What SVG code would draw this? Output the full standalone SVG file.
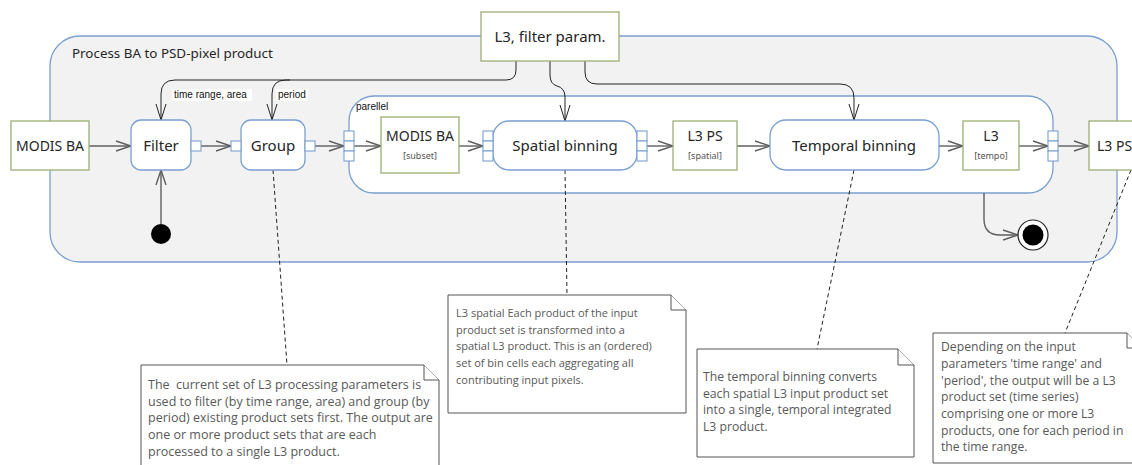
<svg xmlns="http://www.w3.org/2000/svg" width="1132" height="465" viewBox="0 0 1132 465">
<defs>
<style>
.node{font-family:"Noto Sans","Open Sans",sans-serif;fill:#262626;text-anchor:middle}
.big{font-size:15px}
.mid{font-size:14px}
.sub{font-size:9px;fill:#555}
.lbl{font-family:"Liberation Sans",Arial,sans-serif;font-size:10px;fill:#111}
.note{font-family:"Open Sans","Noto Sans",sans-serif;font-size:11px;fill:#595959}
.n1{font-size:12.5px}
.n3{font-size:12.2px}
.act{fill:#fff;stroke:#7aa0cf;stroke-width:1.3}
.obj{fill:#fff;stroke:#9aae72;stroke-width:1.3}
.pin{fill:#fff;stroke:#7aa0cf;stroke-width:1.1}
.flow{fill:none;stroke:#5f5f5f;stroke-width:1.4}
.par{fill:none;stroke:#222;stroke-width:1}
.dash{fill:none;stroke:#222;stroke-width:1;stroke-dasharray:4 3}
.nbox{fill:#fff;stroke:#555;stroke-width:1}
</style>
<marker id="ah" markerUnits="userSpaceOnUse" markerWidth="16" markerHeight="12" refX="15" refY="6" orient="auto" overflow="visible">
<path d="M0,1 L15,6 L0,11" fill="none" stroke="#5f5f5f" stroke-width="1.4"/>
</marker>
<marker id="ahp" markerUnits="userSpaceOnUse" markerWidth="18" markerHeight="12" refX="16" refY="6" orient="auto" overflow="visible">
<path d="M0,1 L16,6 L0,11" fill="none" stroke="#222" stroke-width="1"/>
</marker>
</defs>

<g id="container">
<rect x="50" y="36" width="1067" height="226" rx="30" fill="#f2f2f2" stroke="#7aa0cf" stroke-width="1.3"/>
<text x="72" y="58" class="node" style="text-anchor:start;font-size:13.4px">Process BA to PSD-pixel product</text>
</g>

<g id="parallel-region">
<rect x="349" y="96" width="704" height="97" rx="25" fill="#fff" stroke="#7aa0cf" stroke-width="1.3"/>
<text x="356" y="110" class="lbl">parellel</text>
</g>

<g id="connectors">
<path class="flow" d="M89,146 H131" marker-end="url(#ah)"/>
<path class="flow" d="M201,146 H231" marker-end="url(#ah)"/>
<path class="flow" d="M315,146 H344" marker-end="url(#ah)"/>
<path class="flow" d="M354,146 H381" marker-end="url(#ah)"/>
<path class="flow" d="M459,146 H483" marker-end="url(#ah)"/>
<path class="flow" d="M647,146 H673" marker-end="url(#ah)"/>
<path class="flow" d="M737,146 H770" marker-end="url(#ah)"/>
<path class="flow" d="M939,146 H963" marker-end="url(#ah)"/>
<path class="flow" d="M1019,146 H1048" marker-end="url(#ah)"/>
<path class="flow" d="M1058,146 H1089" marker-end="url(#ah)"/>
<path class="flow" d="M161,224 V170" marker-end="url(#ah)"/>
<path class="flow" d="M984,193 V219 Q984,235 1000,235 H1018" marker-end="url(#ah)"/>

<path class="par" d="M516,61 V70 Q516,80 506,80 H175 Q161,80 161,94 V120" marker-end="url(#ahp)"/>
<path class="par" d="M290,80 H286 Q272,80 272,94 V120" marker-end="url(#ahp)"/>
<path class="par" d="M550,61 V75 Q550,84 557,86 Q565,88 565,97 V121" marker-end="url(#ahp)"/>
<path class="par" d="M585,61 V72 Q585,84 597,84 H840 Q854,84 854,98 V120" marker-end="url(#ahp)"/>
<rect x="172" y="89" width="80" height="12" fill="#fff"/>
<text x="174" y="98" class="lbl">time range, area</text>
<rect x="276" y="89" width="32" height="12" fill="#fff"/>
<text x="278" y="98" class="lbl">period</text>

<path class="dash" d="M273,170 L287,365"/>
<path class="dash" d="M565,170 L567,295"/>
<path class="dash" d="M854,170 L817,349"/>
<path class="dash" d="M1131,170 L1065,333"/>
</g>

<g id="modis-ba-in">
<rect class="obj" x="11" y="121" width="78" height="49"/>
<text x="50" y="151" class="node mid">MODIS BA</text>
</g>

<g id="filter">
<rect class="act" x="131" y="120" width="60" height="50" rx="10"/>
<text x="161" y="151" class="node big">Filter</text>
<rect class="pin" x="191" y="141" width="10" height="10"/>
</g>

<g id="group">
<rect class="act" x="241" y="120" width="64" height="50" rx="10"/>
<text x="273" y="151" class="node big">Group</text>
<rect class="pin" x="231" y="141" width="10" height="10"/>
<rect class="pin" x="305" y="141" width="10" height="10"/>
</g>

<g id="parallel-in-pins">
<rect class="pin" x="344" y="131" width="10" height="10"/>
<rect class="pin" x="344" y="141" width="10" height="10"/>
<rect class="pin" x="344" y="151" width="10" height="10"/>
</g>

<g id="modis-ba-subset">
<rect class="obj" x="381" y="117" width="78" height="56"/>
<text x="420" y="141" class="node mid">MODIS BA</text>
<text x="420" y="159" class="node sub">[subset]</text>
</g>

<g id="spatial-binning">
<rect class="act" x="493" y="121" width="144" height="49" rx="16"/>
<text x="565" y="151" class="node big">Spatial binning</text>
<rect class="pin" x="483" y="131" width="10" height="10"/>
<rect class="pin" x="483" y="141" width="10" height="10"/>
<rect class="pin" x="483" y="151" width="10" height="10"/>
<rect class="pin" x="637" y="131" width="10" height="10"/>
<rect class="pin" x="637" y="141" width="10" height="10"/>
<rect class="pin" x="637" y="151" width="10" height="10"/>
</g>

<g id="l3-ps-spatial">
<rect class="obj" x="673" y="121" width="64" height="49"/>
<text x="705" y="141" class="node mid">L3 PS</text>
<text x="705" y="159" class="node sub">[spatial]</text>
</g>

<g id="temporal-binning">
<rect class="act" x="770" y="120" width="169" height="50" rx="16"/>
<text x="854" y="151" class="node big">Temporal binning</text>
</g>

<g id="l3-tempo">
<rect class="obj" x="963" y="121" width="56" height="49"/>
<text x="991" y="141" class="node mid">L3</text>
<text x="991" y="159" class="node sub">[tempo]</text>
</g>

<g id="parallel-out-pins">
<rect class="pin" x="1048" y="131" width="10" height="10"/>
<rect class="pin" x="1048" y="141" width="10" height="10"/>
<rect class="pin" x="1048" y="151" width="10" height="10"/>
</g>

<g id="l3-ps-out">
<rect class="obj" x="1089" y="121" width="80" height="49"/>
<text x="1097" y="151" class="node mid" style="text-anchor:start">L3 PS</text>
</g>

<g id="l3-filter-param">
<rect class="obj" x="481" y="12" width="138" height="49"/>
<text x="550" y="42" class="node big">L3, filter param.</text>
</g>

<g id="initial-node">
<circle cx="161" cy="234" r="10" fill="#000"/>
</g>

<g id="final-node">
<circle cx="1033" cy="235" r="15" fill="#fff" stroke="#222" stroke-width="1.2"/>
<circle cx="1033" cy="235" r="10.5" fill="#000"/>
</g>

<g id="note-filter-group">
<path class="nbox" d="M141,365 H424 L439,380 V470 H141 Z"/>
<path class="nbox" d="M424,365 V380 H439"/>
<text class="note n1" x="148" y="389">The&#160; current set of L3 processing parameters is</text>
<text class="note n1" x="148" y="406">used to filter (by time range, area) and group (by</text>
<text class="note n1" x="148" y="422">period) existing product sets first. The output are</text>
<text class="note n1" x="148" y="439">one or more product sets that are each</text>
<text class="note n1" x="148" y="456">processed to a single L3 product.</text>
</g>

<g id="note-spatial">
<path class="nbox" d="M448,295 H671 L686,310 V413 H448 Z"/>
<path class="nbox" d="M671,295 V310 H686"/>
<text class="note" x="456" y="317">L3 spatial Each product of the input</text>
<text class="note" x="456" y="334">product set is transformed into a</text>
<text class="note" x="456" y="350">spatial L3 product. This is an (ordered)</text>
<text class="note" x="456" y="367">set of bin cells each aggregating all</text>
<text class="note" x="456" y="384">contributing input pixels.</text>
</g>

<g id="note-temporal">
<path class="nbox" d="M697,349 H898 L914,365 V457 H697 Z"/>
<path class="nbox" d="M898,349 V365 H914"/>
<text class="note n3" x="703" y="381">The temporal binning converts</text>
<text class="note n3" x="703" y="398">each spatial L3 input product set</text>
<text class="note n3" x="703" y="414">into a single, temporal integrated</text>
<text class="note n3" x="703" y="431">L3 product.</text>
</g>

<g id="note-output">
<path class="nbox" d="M933,333 H1127 L1142,348 V463 H933 Z"/>
<path class="nbox" d="M1127,333 V348 H1142"/>
<text class="note n3" x="941" y="351">Depending on the input</text>
<text class="note n3" x="941" y="368">parameters 'time range' and</text>
<text class="note n3" x="941" y="385">'period', the output will be a L3</text>
<text class="note n3" x="941" y="401">product set (time series)</text>
<text class="note n3" x="941" y="418">comprising one or more L3</text>
<text class="note n3" x="941" y="435">products, one for each period in</text>
<text class="note n3" x="941" y="451">the time range.</text>
</g>
</svg>
